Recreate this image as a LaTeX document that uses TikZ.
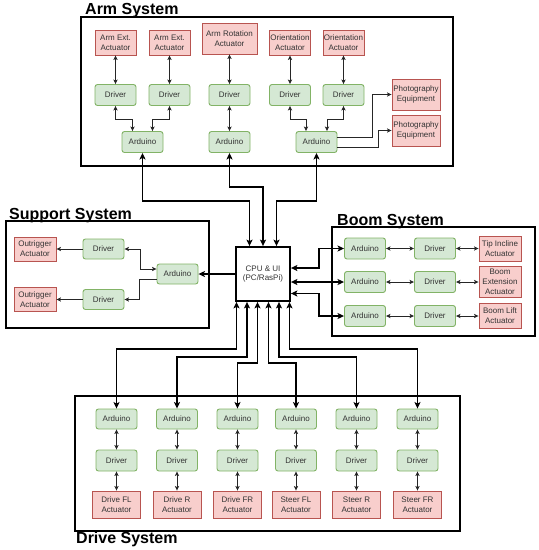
\documentclass[tikz,border=0pt]{standalone}
\usepackage{fontspec}
\setmainfont{Liberation Sans}
\usetikzlibrary{arrows.meta,calc}

\definecolor{actfill}{HTML}{F8CECC}
\definecolor{actline}{HTML}{B85450}
\definecolor{ctlfill}{HTML}{D5E8D4}
\definecolor{ctlline}{HTML}{82B366}
\definecolor{txt}{HTML}{333333}

\tikzset{
  act/.style={draw=actline, fill=actfill, line width=0.9pt, inner sep=0pt, align=center,
    text=txt, font=\fontsize{8}{9.8}\selectfont, minimum width=41, minimum height=25},
  ctl/.style={draw=ctlline, fill=ctlfill, line width=0.9pt, rounded corners=2.5pt, inner sep=0pt,
    align=center, text=txt, font=\fontsize{8}{9.8}\selectfont, minimum width=41, minimum height=21},
  sysbox/.style={draw=black, line width=1.8pt},
  systitle/.style={anchor=base west, inner sep=0pt, font=\fontsize{16}{19}\selectfont\bfseries},
  link/.style={draw=black!85, line width=0.8pt},
  bus/.style={draw=black, line width=1.4pt, >={Stealth[length=6.5pt,width=6pt,inset=1.5pt]}}
}

\begin{document}
\begin{tikzpicture}[x=1pt,y=1pt,yscale=-1,>={Stealth[length=4.5pt,width=4.2pt,inset=1pt]}]
\useasboundingbox (0,0) rectangle (539,550);

% CPU
\node[draw, fill=white, line width=1.8pt, minimum width=54, minimum height=54, inner sep=0pt,
  align=center, text=txt, font=\fontsize{8}{9.8}\selectfont] (cpu) at (263,274) {CPU \& UI\\(PC/RasPi)};

% Arm System
\draw[sysbox] (81,17) rectangle (453,166);
\node[systitle] (armtitle) at (85,14.5) {Arm System};
\node[act] (extact1) at (115.5,42.5) {Arm Ext.\\Actuator};
\node[act] (extact2) at (169.5,42.5) {Arm Ext.\\Actuator};
\node[act, minimum width=55, minimum height=31] (rotact) at (229.5,38.5) {Arm Rotation\\Actuator};
\node[act] (oriact1) at (290,42.5) {Orientation\\Actuator};
\node[act] (oriact2) at (343.5,42.5) {Orientation\\Actuator};
\node[ctl] (armdrv1) at (115.5,95) {Driver};
\node[ctl] (armdrv2) at (169.5,95) {Driver};
\node[ctl] (armdrv3) at (229.5,95) {Driver};
\node[ctl] (armdrv4) at (290,95) {Driver};
\node[ctl] (armdrv5) at (343.5,95) {Driver};
\node[ctl] (armard1) at (142.5,142) {Arduino};
\node[ctl] (armard2) at (229.5,142) {Arduino};
\node[ctl] (armard3) at (316.5,142) {Arduino};
\node[act, minimum width=48, minimum height=31] (photo1) at (416,94.5) {Photography\\Equipment};
\node[act, minimum width=48, minimum height=31] (photo2) at (416,130.5) {Photography\\Equipment};

\draw[link,<->] (extact1) -- (armdrv1);
\draw[link,<->] (extact2) -- (armdrv2);
\draw[link,<->] (rotact) -- (armdrv3);
\draw[link,<->] (oriact1) -- (armdrv4);
\draw[link,<->] (oriact2) -- (armdrv5);
\draw[link,<->] (armdrv1.south) -- ++(0,13) -| ($(armard1.north)+(-10,0)$);
\draw[link,<->] (armdrv2.south) -- ++(0,13) -| ($(armard1.north)+(10,0)$);
\draw[link,<->] (armdrv3) -- (armard2);
\draw[link,<->] (armdrv4.south) -- ++(0,13) -| ($(armard3.north)+(-10.5,0)$);
\draw[link,<->] (armdrv5.south) -- ++(0,13) -| ($(armard3.north)+(10.5,0)$);
\draw[link,->] ($(armard3.east)+(0,-5)$) -- ++(35,0) |- (photo1.west);
\draw[link,->] ($(armard3.east)+(0,5)$) -- ++(41,0) |- (photo2.west);

\draw[bus,<->] (armard1.south) -- ++(0,48) -| ($(cpu.north)+(-13.5,0)$);
\draw[bus,<->] (armard2.south) -- ++(0,34) -| (cpu.north);
\draw[bus,<->] (armard3.south) -- ++(0,48) -| ($(cpu.north)+(13.5,0)$);

% Support System
\draw[sysbox] (6,221) rectangle (209,328);
\node[systitle] (suptitle) at (9,219) {Support System};
\node[act, minimum width=42, minimum height=24] (outrig1) at (35,249) {Outrigger\\Actuator};
\node[act, minimum width=42, minimum height=24] (outrig2) at (35,299.5) {Outrigger\\Actuator};
\node[ctl, minimum height=20] (supdrv1) at (103.5,249) {Driver};
\node[ctl, minimum height=20] (supdrv2) at (103.5,299.5) {Driver};
\node[ctl, minimum height=20] (supard) at (177.5,274) {Arduino};

\draw[link,->] (supdrv1) -- (outrig1);
\draw[link,->] (supdrv2) -- (outrig2);
\draw[link,<->] (supdrv1.east) -- ++(16,0) |- ($(supard.west)+(0,-5)$);
\draw[link,->] ($(supard.west)+(0,5)$) -- ++(-17,0) |- (supdrv2.east);
\draw[bus,->] (cpu.west) -- (supard.east);

% Boom System
\draw[sysbox] (332,227) rectangle (535,336);
\node[systitle] (boomtitle) at (337,225) {Boom System};
\node[ctl] (boomard1) at (365,248.5) {Arduino};
\node[ctl] (boomard2) at (365,282) {Arduino};
\node[ctl] (boomard3) at (365,316) {Arduino};
\node[ctl] (boomdrv1) at (435,248.5) {Driver};
\node[ctl] (boomdrv2) at (435,282) {Driver};
\node[ctl] (boomdrv3) at (435,316) {Driver};
\node[act, minimum width=42] (tipact) at (500,248.5) {Tip Incline\\Actuator};
\node[act, minimum width=42, minimum height=31] (boomextact) at (500,282) {Boom\\Extension\\Actuator};
\node[act, minimum width=42] (liftact) at (500,316) {Boom Lift\\Actuator};

\draw[link,<->] (boomard1) -- (boomdrv1);
\draw[link,<->] (boomard2) -- (boomdrv2);
\draw[link,<->] (boomard3) -- (boomdrv3);
\draw[link,<->] (boomdrv1) -- (tipact);
\draw[link,<->] (boomdrv2) -- (boomextact);
\draw[link,<->] (boomdrv3) -- (liftact);

\draw[bus,<->] ($(cpu.east)+(0,-6)$) -- ++(28,0) |- (boomard1.west);
\draw[bus,<->] (cpu.east |- boomard2.west) -- (boomard2.west);
\draw[bus,<->] ($(cpu.east)+(0,19.5)$) -- ++(28,0) |- (boomard3.west);

% Drive System
\draw[sysbox] (75,396) rectangle (460,531);
\node[systitle] (drvtitle) at (76,543) {Drive System};
\node[ctl, minimum height=20] (drvard1) at (116.5,419) {Arduino};
\node[ctl, minimum height=20] (drvard2) at (177,419) {Arduino};
\node[ctl, minimum height=20] (drvard3) at (237.5,419) {Arduino};
\node[ctl, minimum height=20] (drvard4) at (296,419) {Arduino};
\node[ctl, minimum height=20] (drvard5) at (356.5,419) {Arduino};
\node[ctl, minimum height=20] (drvard6) at (417.5,419) {Arduino};
\node[ctl] (drvdrv1) at (116.5,460.5) {Driver};
\node[ctl] (drvdrv2) at (177,460.5) {Driver};
\node[ctl] (drvdrv3) at (237.5,460.5) {Driver};
\node[ctl] (drvdrv4) at (296,460.5) {Driver};
\node[ctl] (drvdrv5) at (356.5,460.5) {Driver};
\node[ctl] (drvdrv6) at (417.5,460.5) {Driver};
\node[act, minimum width=48, minimum height=27] (drvact1) at (116.5,504.5) {Drive FL\\Actuator};
\node[act, minimum width=48, minimum height=27] (drvact2) at (177,504.5) {Drive R\\Actuator};
\node[act, minimum width=48, minimum height=27] (drvact3) at (237.5,504.5) {Drive FR\\Actuator};
\node[act, minimum width=48, minimum height=27] (drvact4) at (296,504.5) {Steer FL\\Actuator};
\node[act, minimum width=48, minimum height=27] (drvact5) at (356.5,504.5) {Steer R\\Actuator};
\node[act, minimum width=48, minimum height=27] (drvact6) at (417.5,504.5) {Steer FR\\Actuator};

\draw[link,<->] (drvard1) -- (drvdrv1);
\draw[link,<->] (drvard2) -- (drvdrv2);
\draw[link,<->] (drvard3) -- (drvdrv3);
\draw[link,<->] (drvard4) -- (drvdrv4);
\draw[link,<->] (drvard5) -- (drvdrv5);
\draw[link,<->] (drvard6) -- (drvdrv6);
\draw[link,<->] (drvdrv1) -- (drvact1);
\draw[link,<->] (drvdrv2) -- (drvact2);
\draw[link,<->] (drvdrv3) -- (drvact3);
\draw[link,<->] (drvdrv4) -- (drvact4);
\draw[link,<->] (drvdrv5) -- (drvact5);
\draw[link,<->] (drvdrv6) -- (drvact6);

\draw[bus,<->] ($(cpu.south)+(-26.5,0)$) -- ++(0,47) -| (drvard1.north);
\draw[bus,<->] ($(cpu.south)+(-16,0)$) -- ++(0,55) -| (drvard2.north);
\draw[bus,<->] ($(cpu.south)+(-5.5,0)$) -- ++(0,61) -| (drvard3.north);
\draw[bus,<->] ($(cpu.south)+(5.5,0)$) -- ++(0,61) -| (drvard4.north);
\draw[bus,<->] ($(cpu.south)+(16,0)$) -- ++(0,55) -| (drvard5.north);
\draw[bus,<->] ($(cpu.south)+(26.5,0)$) -- ++(0,47) -| (drvard6.north);

\end{tikzpicture}
\end{document}
